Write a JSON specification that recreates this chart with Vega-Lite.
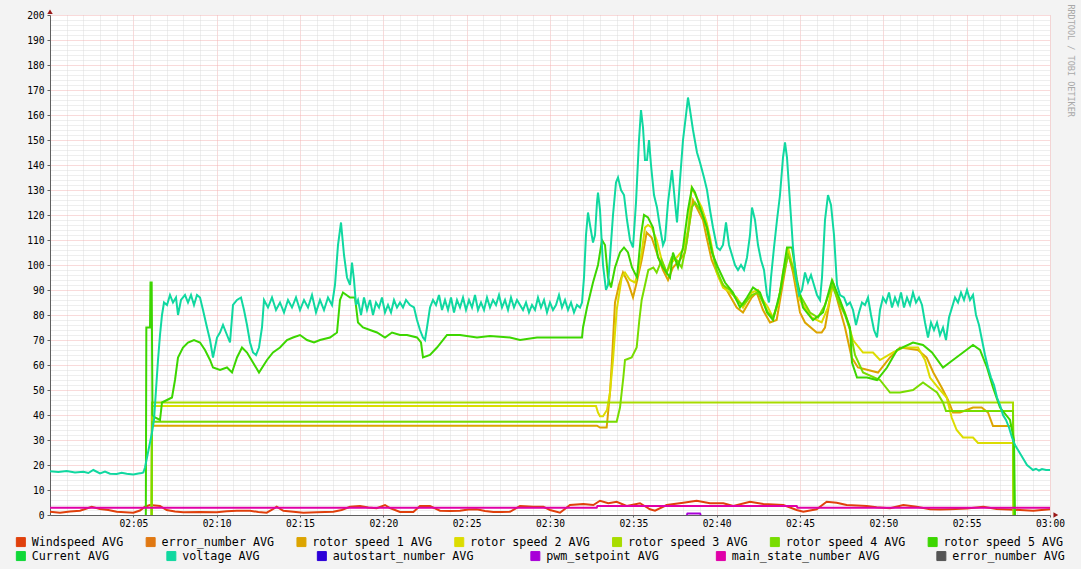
{
"$schema": "https://vega.github.io/schema/vega-lite/v6.json",
"width": 1000, "height": 500,
"autosize": {"type": "none"},
"padding": {"left": 50, "top": 15, "right": 31, "bottom": 54},
"background": "#f3f3f3",
"config": {"view": {"stroke": null, "fill": "#ffffff"}},
"title": {"text": "RRDTOOL / TOBI OETIKER", "orient": "right", "anchor": "start", "font": "DejaVu Sans Mono", "fontSize": 8.5, "fontWeight": "normal", "color": "#a8a8a8", "offset": 1, "dx": -5},
"datasets": {
"names": [{"k":"ws","s":"Windspeed AVG"},{"k":"r1","s":"rotor speed 1 AVG"},{"k":"r2","s":"rotor speed 2 AVG"},{"k":"r3","s":"rotor speed 3 AVG"},{"k":"r4","s":"rotor speed 4 AVG"},{"k":"r5","s":"rotor speed 5 AVG"},{"k":"vo","s":"voltage AVG"},{"k":"pw","s":"pwm_setpoint AVG"},{"k":"ms","s":"main_state_number AVG"}],
"ya": [{"m":0,"v":201.3}],
"xa": [{"m":60.35,"v":0}],
"g1": [
{"k":"ws","m":0,"v":1.3},{"k":"ws","m":0.6,"v":0.9},{"k":"ws","m":1.2,"v":1.4},{"k":"ws","m":1.8,"v":1.7},{"k":"ws","m":2.2,"v":2.6},{"k":"ws","m":2.5,"v":3.3},{"k":"ws","m":3,"v":2.4},{"k":"ws","m":3.5,"v":2},{"k":"ws","m":4,"v":1.3},{"k":"ws","m":4.5,"v":1.1},{"k":"ws","m":5,"v":0.9},{"k":"ws","m":5.4,"v":1.8},{"k":"ws","m":5.7,"v":3.3},{"k":"ws","m":6,"v":4},{"k":"ws","m":6.6,"v":3.6},{"k":"ws","m":7,"v":2},{"k":"ws","m":7.5,"v":1.4},{"k":"ws","m":8,"v":1.1},{"k":"ws","m":9,"v":1.2},{"k":"ws","m":10,"v":1.1},{"k":"ws","m":10.6,"v":1.5},{"k":"ws","m":11.2,"v":1.7},{"k":"ws","m":12,"v":1.7},{"k":"ws","m":12.5,"v":1.2},{"k":"ws","m":13,"v":0.9},{"k":"ws","m":13.3,"v":2},{"k":"ws","m":13.6,"v":3.3},{"k":"ws","m":14,"v":1.7},{"k":"ws","m":14.6,"v":1.3},{"k":"ws","m":15.2,"v":0.9},{"k":"ws","m":16,"v":1.1},{"k":"ws","m":17,"v":1.3},{"k":"ws","m":17.5,"v":2},{"k":"ws","m":18,"v":3.3},{"k":"ws","m":18.6,"v":3.6},{"k":"ws","m":19.1,"v":3},{"k":"ws","m":19.6,"v":2.7},{"k":"ws","m":20.1,"v":4},{"k":"ws","m":20.4,"v":2.8},{"k":"ws","m":21,"v":1.2},{"k":"ws","m":21.8,"v":1.2},{"k":"ws","m":22.2,"v":3.6},{"k":"ws","m":22.8,"v":3.6},{"k":"ws","m":23.4,"v":1.7},{"k":"ws","m":24,"v":1.6},{"k":"ws","m":24.6,"v":1.7},{"k":"ws","m":25.1,"v":2.2},{"k":"ws","m":25.6,"v":2.3},{"k":"ws","m":26.1,"v":1.6},{"k":"ws","m":26.6,"v":1.2},{"k":"ws","m":27.1,"v":1.2},{"k":"ws","m":27.6,"v":1.3},{"k":"ws","m":28.2,"v":3.6},{"k":"ws","m":29,"v":3.3},{"k":"ws","m":29.6,"v":3.3},{"k":"ws","m":30,"v":2},{"k":"ws","m":30.6,"v":0.9},{"k":"ws","m":31.2,"v":4},{"k":"ws","m":32,"v":4.4},{"k":"ws","m":32.6,"v":4},{"k":"ws","m":33,"v":5.7},{"k":"ws","m":33.5,"v":4.7},{"k":"ws","m":34,"v":5.3},{"k":"ws","m":34.6,"v":3.6},{"k":"ws","m":35.4,"v":4.7},{"k":"ws","m":36,"v":2.3},{"k":"ws","m":36.3,"v":1.7},{"k":"ws","m":37,"v":4},{"k":"ws","m":38,"v":4.9},{"k":"ws","m":38.8,"v":5.7},{"k":"ws","m":39.6,"v":4.7},{"k":"ws","m":40.4,"v":4.7},{"k":"ws","m":41,"v":3.6},{"k":"ws","m":42,"v":5.3},{"k":"ws","m":42.8,"v":4.4},{"k":"ws","m":43.4,"v":4.2},{"k":"ws","m":44,"v":4},{"k":"ws","m":44.8,"v":2},{"k":"ws","m":45.2,"v":1.3},{"k":"ws","m":46,"v":2.3},{"k":"ws","m":46.6,"v":5.3},{"k":"ws","m":47.2,"v":4.9},{"k":"ws","m":47.8,"v":4},{"k":"ws","m":48.4,"v":3.8},{"k":"ws","m":49,"v":3.6},{"k":"ws","m":49.6,"v":3.1},{"k":"ws","m":50.4,"v":2.7},{"k":"ws","m":51.2,"v":4},{"k":"ws","m":52,"v":3.3},{"k":"ws","m":52.8,"v":2.3},{"k":"ws","m":53.4,"v":2.2},{"k":"ws","m":54,"v":2.3},{"k":"ws","m":55,"v":2.6},{"k":"ws","m":56,"v":3.3},{"k":"ws","m":56.8,"v":2.4},{"k":"ws","m":57.5,"v":2.2},{"k":"ws","m":58.2,"v":2},{"k":"ws","m":59,"v":1.7},{"k":"ws","m":60,"v":2.3},
{"k":"r1","m":6.1,"v":0},{"k":"r1","m":6.12,"v":35.7},{"k":"r1","m":32.82,"v":35.7},{"k":"r1","m":33,"v":35},{"k":"r1","m":33.4,"v":35},{"k":"r1","m":33.6,"v":49},{"k":"r1","m":33.72,"v":62},{"k":"r1","m":33.9,"v":85},{"k":"r1","m":34.14,"v":92},{"k":"r1","m":34.38,"v":97},{"k":"r1","m":34.68,"v":93},{"k":"r1","m":34.98,"v":87},{"k":"r1","m":35.2,"v":93},{"k":"r1","m":35.5,"v":102},{"k":"r1","m":35.8,"v":113},{"k":"r1","m":36.1,"v":111},{"k":"r1","m":36.4,"v":105},{"k":"r1","m":36.78,"v":98},{"k":"r1","m":37.08,"v":94},{"k":"r1","m":37.38,"v":99},{"k":"r1","m":37.8,"v":102},{"k":"r1","m":38.1,"v":105},{"k":"r1","m":38.4,"v":118},{"k":"r1","m":38.58,"v":126},{"k":"r1","m":38.8,"v":123},{"k":"r1","m":39.18,"v":118},{"k":"r1","m":39.4,"v":111},{"k":"r1","m":39.7,"v":102},{"k":"r1","m":40.2,"v":94},{"k":"r1","m":40.6,"v":90},{"k":"r1","m":41.2,"v":83},{"k":"r1","m":41.58,"v":81},{"k":"r1","m":42.1,"v":87},{"k":"r1","m":42.4,"v":89},{"k":"r1","m":42.78,"v":82},{"k":"r1","m":43.2,"v":77},{"k":"r1","m":43.6,"v":78},{"k":"r1","m":43.98,"v":93},{"k":"r1","m":44.28,"v":105},{"k":"r1","m":44.58,"v":97},{"k":"r1","m":45,"v":81},{"k":"r1","m":45.3,"v":77},{"k":"r1","m":46,"v":73},{"k":"r1","m":46.3,"v":73},{"k":"r1","m":46.5,"v":75},{"k":"r1","m":46.98,"v":93},{"k":"r1","m":47.28,"v":85},{"k":"r1","m":47.7,"v":75},{"k":"r1","m":48.1,"v":63},{"k":"r1","m":48.48,"v":59},{"k":"r1","m":49.08,"v":58},{"k":"r1","m":49.68,"v":57},{"k":"r1","m":50.4,"v":63},{"k":"r1","m":51,"v":67},{"k":"r1","m":52.08,"v":66},{"k":"r1","m":52.6,"v":63},{"k":"r1","m":53,"v":57},{"k":"r1","m":53.5,"v":51},{"k":"r1","m":53.88,"v":46},{"k":"r1","m":54.18,"v":41},{"k":"r1","m":54.6,"v":41},{"k":"r1","m":55.38,"v":43},{"k":"r1","m":55.9,"v":43},{"k":"r1","m":56.28,"v":41},{"k":"r1","m":56.58,"v":35.6},{"k":"r1","m":57.78,"v":35.6},{"k":"r1","m":57.84,"v":0},
{"k":"r2","m":6.1,"v":0},{"k":"r2","m":6.12,"v":43.6},{"k":"r2","m":32.76,"v":43.6},{"k":"r2","m":32.88,"v":41},{"k":"r2","m":33,"v":39.5},{"k":"r2","m":33.18,"v":39.5},{"k":"r2","m":33.42,"v":42},{"k":"r2","m":33.6,"v":49},{"k":"r2","m":33.78,"v":62},{"k":"r2","m":34,"v":82},{"k":"r2","m":34.3,"v":95},{"k":"r2","m":34.5,"v":97},{"k":"r2","m":34.8,"v":94},{"k":"r2","m":35.1,"v":93},{"k":"r2","m":35.28,"v":97},{"k":"r2","m":35.5,"v":105},{"k":"r2","m":35.7,"v":115},{"k":"r2","m":35.88,"v":116},{"k":"r2","m":36.1,"v":115},{"k":"r2","m":36.4,"v":110},{"k":"r2","m":36.7,"v":102},{"k":"r2","m":37,"v":97},{"k":"r2","m":37.3,"v":101},{"k":"r2","m":37.6,"v":103},{"k":"r2","m":37.98,"v":106},{"k":"r2","m":38.28,"v":114},{"k":"r2","m":38.5,"v":131},{"k":"r2","m":38.8,"v":127},{"k":"r2","m":39.1,"v":123},{"k":"r2","m":39.4,"v":117},{"k":"r2","m":39.6,"v":111},{"k":"r2","m":40,"v":97},{"k":"r2","m":40.38,"v":91},{"k":"r2","m":40.8,"v":89},{"k":"r2","m":41.2,"v":87},{"k":"r2","m":41.58,"v":83},{"k":"r2","m":42.1,"v":89},{"k":"r2","m":42.48,"v":90},{"k":"r2","m":42.78,"v":86},{"k":"r2","m":43.08,"v":83},{"k":"r2","m":43.38,"v":79},{"k":"r2","m":43.68,"v":84},{"k":"r2","m":43.98,"v":97},{"k":"r2","m":44.28,"v":107},{"k":"r2","m":44.58,"v":99},{"k":"r2","m":45,"v":86},{"k":"r2","m":45.7,"v":79},{"k":"r2","m":46.3,"v":77},{"k":"r2","m":46.68,"v":83},{"k":"r2","m":46.98,"v":93},{"k":"r2","m":47.28,"v":87},{"k":"r2","m":47.7,"v":81},{"k":"r2","m":48.18,"v":70},{"k":"r2","m":48.78,"v":65},{"k":"r2","m":49.38,"v":65},{"k":"r2","m":49.8,"v":62},{"k":"r2","m":50.58,"v":65},{"k":"r2","m":51.18,"v":67},{"k":"r2","m":52.08,"v":67},{"k":"r2","m":52.5,"v":62},{"k":"r2","m":52.8,"v":55},{"k":"r2","m":53.28,"v":51},{"k":"r2","m":53.8,"v":47},{"k":"r2","m":54.1,"v":39},{"k":"r2","m":54.4,"v":34},{"k":"r2","m":54.78,"v":31},{"k":"r2","m":55.38,"v":31},{"k":"r2","m":55.68,"v":28.8},{"k":"r2","m":57.78,"v":28.8},{"k":"r2","m":57.84,"v":0},
{"k":"r3","m":6.1,"v":0},{"k":"r3","m":6.12,"v":45},{"k":"r3","m":57.78,"v":45},{"k":"r3","m":57.8,"v":0},
{"k":"r4","m":6.1,"v":0},{"k":"r4","m":6.12,"v":37.3},{"k":"r4","m":34,"v":37.3},{"k":"r4","m":34.2,"v":43},{"k":"r4","m":34.4,"v":55},{"k":"r4","m":34.5,"v":62},{"k":"r4","m":34.9,"v":63},{"k":"r4","m":35.2,"v":67},{"k":"r4","m":35.36,"v":78},{"k":"r4","m":35.5,"v":86},{"k":"r4","m":35.9,"v":98},{"k":"r4","m":36.2,"v":99},{"k":"r4","m":36.4,"v":97},{"k":"r4","m":36.7,"v":102},{"k":"r4","m":37,"v":97},{"k":"r4","m":37.3,"v":103},{"k":"r4","m":37.6,"v":102},{"k":"r4","m":37.9,"v":99},{"k":"r4","m":38.2,"v":109},{"k":"r4","m":38.5,"v":123},{"k":"r4","m":38.7,"v":125},{"k":"r4","m":39.1,"v":121},{"k":"r4","m":39.4,"v":115},{"k":"r4","m":39.6,"v":109},{"k":"r4","m":40,"v":98},{"k":"r4","m":40.38,"v":92},{"k":"r4","m":40.8,"v":90},{"k":"r4","m":41.2,"v":86},{"k":"r4","m":41.58,"v":84},{"k":"r4","m":42.1,"v":88},{"k":"r4","m":42.48,"v":89},{"k":"r4","m":42.78,"v":85},{"k":"r4","m":43.08,"v":81},{"k":"r4","m":43.38,"v":79},{"k":"r4","m":43.68,"v":85},{"k":"r4","m":43.98,"v":95},{"k":"r4","m":44.28,"v":104},{"k":"r4","m":44.58,"v":99},{"k":"r4","m":45,"v":88},{"k":"r4","m":45.6,"v":81},{"k":"r4","m":46.08,"v":79},{"k":"r4","m":46.5,"v":84},{"k":"r4","m":46.92,"v":92},{"k":"r4","m":47.28,"v":86},{"k":"r4","m":47.7,"v":80},{"k":"r4","m":48,"v":74},{"k":"r4","m":48.3,"v":64},{"k":"r4","m":48.78,"v":57},{"k":"r4","m":49.8,"v":54},{"k":"r4","m":50.4,"v":49},{"k":"r4","m":51,"v":49},{"k":"r4","m":51.78,"v":50},{"k":"r4","m":52.38,"v":53},{"k":"r4","m":52.8,"v":51},{"k":"r4","m":53.22,"v":49},{"k":"r4","m":53.58,"v":45},{"k":"r4","m":53.76,"v":41.6},{"k":"r4","m":57.78,"v":41.6},{"k":"r4","m":57.84,"v":0},
{"k":"r5","m":5.75,"v":0},{"k":"r5","m":5.78,"v":75},{"k":"r5","m":6,"v":75},{"k":"r5","m":6.03,"v":93},{"k":"r5","m":6.1,"v":93},{"k":"r5","m":6.15,"v":40},{"k":"r5","m":6.3,"v":39},{"k":"r5","m":6.6,"v":38},{"k":"r5","m":6.72,"v":45},{"k":"r5","m":7.02,"v":46},{"k":"r5","m":7.32,"v":47},{"k":"r5","m":7.5,"v":54},{"k":"r5","m":7.68,"v":63},{"k":"r5","m":7.98,"v":67},{"k":"r5","m":8.28,"v":69},{"k":"r5","m":8.64,"v":70},{"k":"r5","m":9,"v":69},{"k":"r5","m":9.3,"v":66},{"k":"r5","m":9.6,"v":62},{"k":"r5","m":9.78,"v":59},{"k":"r5","m":10.2,"v":58},{"k":"r5","m":10.62,"v":59},{"k":"r5","m":10.92,"v":57},{"k":"r5","m":11.22,"v":63},{"k":"r5","m":11.52,"v":67},{"k":"r5","m":11.82,"v":65},{"k":"r5","m":12.18,"v":61},{"k":"r5","m":12.54,"v":57},{"k":"r5","m":13.02,"v":62},{"k":"r5","m":13.38,"v":65},{"k":"r5","m":13.8,"v":67},{"k":"r5","m":14.22,"v":70},{"k":"r5","m":14.58,"v":71},{"k":"r5","m":15,"v":72},{"k":"r5","m":15.42,"v":70},{"k":"r5","m":15.84,"v":69},{"k":"r5","m":16.2,"v":70},{"k":"r5","m":16.8,"v":71},{"k":"r5","m":17.22,"v":73},{"k":"r5","m":17.4,"v":86},{"k":"r5","m":17.58,"v":89},{"k":"r5","m":18,"v":87},{"k":"r5","m":18.3,"v":87},{"k":"r5","m":18.48,"v":77},{"k":"r5","m":18.78,"v":75},{"k":"r5","m":19.2,"v":74},{"k":"r5","m":19.62,"v":73},{"k":"r5","m":20.1,"v":71},{"k":"r5","m":20.52,"v":73},{"k":"r5","m":21,"v":72},{"k":"r5","m":21.42,"v":72},{"k":"r5","m":22.02,"v":71},{"k":"r5","m":22.26,"v":69},{"k":"r5","m":22.38,"v":63},{"k":"r5","m":22.8,"v":64},{"k":"r5","m":23.22,"v":67},{"k":"r5","m":23.82,"v":72},{"k":"r5","m":24.6,"v":72},{"k":"r5","m":25.62,"v":71},{"k":"r5","m":26.4,"v":71.6},{"k":"r5","m":27.6,"v":71},{"k":"r5","m":28.2,"v":70},{"k":"r5","m":29.22,"v":71},{"k":"r5","m":30.78,"v":71},{"k":"r5","m":31.92,"v":71},{"k":"r5","m":31.98,"v":75},{"k":"r5","m":32.22,"v":83},{"k":"r5","m":32.58,"v":93},{"k":"r5","m":32.88,"v":100},{"k":"r5","m":33.12,"v":110},{"k":"r5","m":33.3,"v":108},{"k":"r5","m":33.48,"v":95},{"k":"r5","m":33.66,"v":91},{"k":"r5","m":33.9,"v":99},{"k":"r5","m":34.2,"v":105},{"k":"r5","m":34.44,"v":107},{"k":"r5","m":34.68,"v":105},{"k":"r5","m":34.92,"v":99},{"k":"r5","m":35.22,"v":95},{"k":"r5","m":35.46,"v":112},{"k":"r5","m":35.64,"v":120},{"k":"r5","m":35.88,"v":119},{"k":"r5","m":36.18,"v":115},{"k":"r5","m":36.48,"v":103},{"k":"r5","m":36.78,"v":99},{"k":"r5","m":37.2,"v":95},{"k":"r5","m":37.38,"v":105},{"k":"r5","m":37.68,"v":99},{"k":"r5","m":37.98,"v":107},{"k":"r5","m":38.28,"v":122},{"k":"r5","m":38.52,"v":131},{"k":"r5","m":38.7,"v":129},{"k":"r5","m":39,"v":123},{"k":"r5","m":39.42,"v":115},{"k":"r5","m":39.72,"v":105},{"k":"r5","m":40.08,"v":99},{"k":"r5","m":40.5,"v":93},{"k":"r5","m":40.98,"v":89},{"k":"r5","m":41.4,"v":83},{"k":"r5","m":41.82,"v":87},{"k":"r5","m":42.18,"v":91},{"k":"r5","m":42.6,"v":89},{"k":"r5","m":43.02,"v":81},{"k":"r5","m":43.38,"v":78},{"k":"r5","m":43.8,"v":89},{"k":"r5","m":44.22,"v":107},{"k":"r5","m":44.52,"v":107},{"k":"r5","m":44.82,"v":94},{"k":"r5","m":45.18,"v":83},{"k":"r5","m":45.78,"v":78},{"k":"r5","m":46.38,"v":81},{"k":"r5","m":46.92,"v":94},{"k":"r5","m":47.4,"v":86},{"k":"r5","m":48,"v":75},{"k":"r5","m":48.12,"v":61},{"k":"r5","m":48.42,"v":55},{"k":"r5","m":49.02,"v":55},{"k":"r5","m":49.62,"v":54},{"k":"r5","m":50.22,"v":59},{"k":"r5","m":50.82,"v":66},{"k":"r5","m":51.78,"v":69},{"k":"r5","m":52.38,"v":68},{"k":"r5","m":52.92,"v":65},{"k":"r5","m":53.58,"v":59},{"k":"r5","m":54.18,"v":62},{"k":"r5","m":54.78,"v":65},{"k":"r5","m":55.38,"v":68},{"k":"r5","m":55.8,"v":66},{"k":"r5","m":56.22,"v":59},{"k":"r5","m":56.58,"v":51},{"k":"r5","m":57,"v":43},{"k":"r5","m":57.6,"v":38},{"k":"r5","m":57.84,"v":30},{"k":"r5","m":57.9,"v":0}
],
"g2": [
{"k":"vo","m":0,"v":17.5},{"k":"vo","m":0.5,"v":17.2},{"k":"vo","m":1,"v":17.6},{"k":"vo","m":1.5,"v":17},{"k":"vo","m":2,"v":17.3},{"k":"vo","m":2.3,"v":16.8},{"k":"vo","m":2.6,"v":18},{"k":"vo","m":3,"v":16.6},{"k":"vo","m":3.3,"v":17.4},{"k":"vo","m":3.6,"v":16.5},{"k":"vo","m":4,"v":16.4},{"k":"vo","m":4.3,"v":16.9},{"k":"vo","m":4.6,"v":16.5},{"k":"vo","m":5,"v":16.2},{"k":"vo","m":5.3,"v":16.6},{"k":"vo","m":5.5,"v":16.8},{"k":"vo","m":5.6,"v":17},{"k":"vo","m":5.7,"v":19},{"k":"vo","m":5.88,"v":25},{"k":"vo","m":6,"v":29},{"k":"vo","m":6.12,"v":33},{"k":"vo","m":6.24,"v":38},{"k":"vo","m":6.36,"v":50},{"k":"vo","m":6.48,"v":62},{"k":"vo","m":6.6,"v":72},{"k":"vo","m":6.72,"v":80},{"k":"vo","m":6.84,"v":85},{"k":"vo","m":7.02,"v":84},{"k":"vo","m":7.2,"v":88},{"k":"vo","m":7.38,"v":85},{"k":"vo","m":7.56,"v":87},{"k":"vo","m":7.68,"v":80},{"k":"vo","m":7.86,"v":86},{"k":"vo","m":8.1,"v":88},{"k":"vo","m":8.28,"v":85},{"k":"vo","m":8.46,"v":88},{"k":"vo","m":8.64,"v":84},{"k":"vo","m":8.82,"v":88},{"k":"vo","m":9,"v":87},{"k":"vo","m":9.18,"v":82},{"k":"vo","m":9.42,"v":75},{"k":"vo","m":9.6,"v":70},{"k":"vo","m":9.78,"v":63},{"k":"vo","m":10.02,"v":71},{"k":"vo","m":10.2,"v":73},{"k":"vo","m":10.38,"v":76},{"k":"vo","m":10.62,"v":72},{"k":"vo","m":10.8,"v":69},{"k":"vo","m":10.98,"v":84},{"k":"vo","m":11.22,"v":86},{"k":"vo","m":11.46,"v":87},{"k":"vo","m":11.64,"v":82},{"k":"vo","m":11.82,"v":76},{"k":"vo","m":12,"v":69},{"k":"vo","m":12.18,"v":65},{"k":"vo","m":12.36,"v":64},{"k":"vo","m":12.54,"v":67},{"k":"vo","m":12.72,"v":75},{"k":"vo","m":12.84,"v":86},{"k":"vo","m":13.08,"v":83},{"k":"vo","m":13.32,"v":87},{"k":"vo","m":13.56,"v":82},{"k":"vo","m":13.8,"v":85},{"k":"vo","m":14.04,"v":81},{"k":"vo","m":14.28,"v":86},{"k":"vo","m":14.52,"v":83},{"k":"vo","m":14.76,"v":87},{"k":"vo","m":15,"v":82},{"k":"vo","m":15.24,"v":86},{"k":"vo","m":15.48,"v":83},{"k":"vo","m":15.72,"v":88},{"k":"vo","m":15.96,"v":81},{"k":"vo","m":16.2,"v":86},{"k":"vo","m":16.44,"v":82},{"k":"vo","m":16.68,"v":87},{"k":"vo","m":16.92,"v":84},{"k":"vo","m":17.1,"v":92},{"k":"vo","m":17.28,"v":108},{"k":"vo","m":17.46,"v":117},{"k":"vo","m":17.64,"v":104},{"k":"vo","m":17.82,"v":95},{"k":"vo","m":18,"v":92},{"k":"vo","m":18.12,"v":101},{"k":"vo","m":18.24,"v":94},{"k":"vo","m":18.36,"v":84},{"k":"vo","m":18.48,"v":86},{"k":"vo","m":18.66,"v":80},{"k":"vo","m":18.84,"v":87},{"k":"vo","m":19.02,"v":82},{"k":"vo","m":19.2,"v":86},{"k":"vo","m":19.38,"v":80},{"k":"vo","m":19.56,"v":85},{"k":"vo","m":19.74,"v":83},{"k":"vo","m":19.92,"v":87},{"k":"vo","m":20.1,"v":81},{"k":"vo","m":20.28,"v":84},{"k":"vo","m":20.46,"v":81},{"k":"vo","m":20.64,"v":86},{"k":"vo","m":20.82,"v":83},{"k":"vo","m":21,"v":85},{"k":"vo","m":21.18,"v":83},{"k":"vo","m":21.36,"v":86},{"k":"vo","m":21.6,"v":84},{"k":"vo","m":21.84,"v":83},{"k":"vo","m":22.02,"v":78},{"k":"vo","m":22.2,"v":74},{"k":"vo","m":22.38,"v":71},{"k":"vo","m":22.5,"v":70},{"k":"vo","m":22.62,"v":75},{"k":"vo","m":22.8,"v":83},{"k":"vo","m":22.98,"v":86},{"k":"vo","m":23.16,"v":84},{"k":"vo","m":23.34,"v":88},{"k":"vo","m":23.52,"v":82},{"k":"vo","m":23.7,"v":86},{"k":"vo","m":23.88,"v":82},{"k":"vo","m":24.06,"v":87},{"k":"vo","m":24.24,"v":81},{"k":"vo","m":24.42,"v":86},{"k":"vo","m":24.6,"v":83},{"k":"vo","m":24.78,"v":87},{"k":"vo","m":24.96,"v":82},{"k":"vo","m":25.14,"v":86},{"k":"vo","m":25.32,"v":83},{"k":"vo","m":25.5,"v":88},{"k":"vo","m":25.68,"v":82},{"k":"vo","m":25.86,"v":85},{"k":"vo","m":26.04,"v":82},{"k":"vo","m":26.22,"v":87},{"k":"vo","m":26.4,"v":83},{"k":"vo","m":26.58,"v":86},{"k":"vo","m":26.76,"v":84},{"k":"vo","m":26.94,"v":88},{"k":"vo","m":27.12,"v":83},{"k":"vo","m":27.3,"v":86},{"k":"vo","m":27.48,"v":82},{"k":"vo","m":27.66,"v":87},{"k":"vo","m":27.84,"v":83},{"k":"vo","m":28.02,"v":86},{"k":"vo","m":28.2,"v":84},{"k":"vo","m":28.38,"v":82},{"k":"vo","m":28.56,"v":85},{"k":"vo","m":28.74,"v":81},{"k":"vo","m":28.92,"v":84},{"k":"vo","m":29.1,"v":82},{"k":"vo","m":29.28,"v":87},{"k":"vo","m":29.46,"v":83},{"k":"vo","m":29.64,"v":86},{"k":"vo","m":29.82,"v":81},{"k":"vo","m":30,"v":85},{"k":"vo","m":30.18,"v":82},{"k":"vo","m":30.36,"v":84},{"k":"vo","m":30.54,"v":88},{"k":"vo","m":30.72,"v":83},{"k":"vo","m":30.9,"v":86},{"k":"vo","m":31.08,"v":82},{"k":"vo","m":31.26,"v":85},{"k":"vo","m":31.44,"v":81},{"k":"vo","m":31.62,"v":84},{"k":"vo","m":31.8,"v":83},{"k":"vo","m":31.92,"v":85},{"k":"vo","m":32.04,"v":95},{"k":"vo","m":32.16,"v":112},{"k":"vo","m":32.28,"v":121},{"k":"vo","m":32.4,"v":116},{"k":"vo","m":32.58,"v":109},{"k":"vo","m":32.7,"v":112},{"k":"vo","m":32.82,"v":125},{"k":"vo","m":32.88,"v":129},{"k":"vo","m":33,"v":122},{"k":"vo","m":33.18,"v":100},{"k":"vo","m":33.36,"v":90},{"k":"vo","m":33.48,"v":92},{"k":"vo","m":33.6,"v":103},{"k":"vo","m":33.78,"v":120},{"k":"vo","m":33.96,"v":133},{"k":"vo","m":34.08,"v":135},{"k":"vo","m":34.26,"v":130},{"k":"vo","m":34.44,"v":128},{"k":"vo","m":34.62,"v":118},{"k":"vo","m":34.8,"v":110},{"k":"vo","m":34.98,"v":107},{"k":"vo","m":35.16,"v":125},{"k":"vo","m":35.34,"v":150},{"k":"vo","m":35.46,"v":162},{"k":"vo","m":35.58,"v":155},{"k":"vo","m":35.7,"v":142},{"k":"vo","m":35.82,"v":142},{"k":"vo","m":35.94,"v":150},{"k":"vo","m":36.06,"v":140},{"k":"vo","m":36.24,"v":128},{"k":"vo","m":36.42,"v":123},{"k":"vo","m":36.6,"v":115},{"k":"vo","m":36.78,"v":108},{"k":"vo","m":36.9,"v":110},{"k":"vo","m":37.08,"v":125},{"k":"vo","m":37.32,"v":138},{"k":"vo","m":37.5,"v":125},{"k":"vo","m":37.62,"v":117},{"k":"vo","m":37.8,"v":134},{"k":"vo","m":37.98,"v":150},{"k":"vo","m":38.16,"v":160},{"k":"vo","m":38.28,"v":167},{"k":"vo","m":38.4,"v":162},{"k":"vo","m":38.58,"v":154},{"k":"vo","m":38.82,"v":145},{"k":"vo","m":39,"v":141},{"k":"vo","m":39.24,"v":135},{"k":"vo","m":39.42,"v":130},{"k":"vo","m":39.6,"v":122},{"k":"vo","m":39.78,"v":115},{"k":"vo","m":40.02,"v":107},{"k":"vo","m":40.2,"v":106},{"k":"vo","m":40.38,"v":108},{"k":"vo","m":40.56,"v":117},{"k":"vo","m":40.74,"v":108},{"k":"vo","m":40.92,"v":104},{"k":"vo","m":41.1,"v":100},{"k":"vo","m":41.28,"v":98},{"k":"vo","m":41.46,"v":100},{"k":"vo","m":41.64,"v":98},{"k":"vo","m":41.82,"v":103},{"k":"vo","m":42,"v":112},{"k":"vo","m":42.12,"v":123},{"k":"vo","m":42.3,"v":118},{"k":"vo","m":42.48,"v":108},{"k":"vo","m":42.66,"v":102},{"k":"vo","m":42.84,"v":98},{"k":"vo","m":43.02,"v":88},{"k":"vo","m":43.14,"v":85},{"k":"vo","m":43.26,"v":95},{"k":"vo","m":43.44,"v":107},{"k":"vo","m":43.62,"v":118},{"k":"vo","m":43.8,"v":128},{"k":"vo","m":43.98,"v":143},{"k":"vo","m":44.1,"v":149},{"k":"vo","m":44.22,"v":143},{"k":"vo","m":44.4,"v":125},{"k":"vo","m":44.58,"v":107},{"k":"vo","m":44.76,"v":95},{"k":"vo","m":44.94,"v":88},{"k":"vo","m":45.12,"v":90},{"k":"vo","m":45.3,"v":97},{"k":"vo","m":45.48,"v":93},{"k":"vo","m":45.66,"v":96},{"k":"vo","m":45.84,"v":92},{"k":"vo","m":46.02,"v":88},{"k":"vo","m":46.2,"v":86},{"k":"vo","m":46.32,"v":95},{"k":"vo","m":46.5,"v":118},{"k":"vo","m":46.68,"v":128},{"k":"vo","m":46.86,"v":124},{"k":"vo","m":47.04,"v":112},{"k":"vo","m":47.22,"v":92},{"k":"vo","m":47.4,"v":88},{"k":"vo","m":47.64,"v":87},{"k":"vo","m":47.82,"v":84},{"k":"vo","m":48,"v":85},{"k":"vo","m":48.18,"v":82},{"k":"vo","m":48.36,"v":76},{"k":"vo","m":48.54,"v":81},{"k":"vo","m":48.72,"v":85},{"k":"vo","m":48.9,"v":84},{"k":"vo","m":49.08,"v":87},{"k":"vo","m":49.26,"v":80},{"k":"vo","m":49.44,"v":74},{"k":"vo","m":49.62,"v":71},{"k":"vo","m":49.8,"v":82},{"k":"vo","m":49.98,"v":87},{"k":"vo","m":50.16,"v":85},{"k":"vo","m":50.34,"v":89},{"k":"vo","m":50.52,"v":83},{"k":"vo","m":50.7,"v":87},{"k":"vo","m":50.88,"v":84},{"k":"vo","m":51.06,"v":89},{"k":"vo","m":51.24,"v":83},{"k":"vo","m":51.42,"v":87},{"k":"vo","m":51.6,"v":84},{"k":"vo","m":51.78,"v":89},{"k":"vo","m":51.96,"v":85},{"k":"vo","m":52.14,"v":87},{"k":"vo","m":52.32,"v":84},{"k":"vo","m":52.5,"v":77},{"k":"vo","m":52.68,"v":71},{"k":"vo","m":52.86,"v":77},{"k":"vo","m":53.04,"v":74},{"k":"vo","m":53.22,"v":77},{"k":"vo","m":53.4,"v":72},{"k":"vo","m":53.58,"v":75},{"k":"vo","m":53.76,"v":70},{"k":"vo","m":53.94,"v":79},{"k":"vo","m":54.12,"v":83},{"k":"vo","m":54.3,"v":87},{"k":"vo","m":54.48,"v":85},{"k":"vo","m":54.66,"v":89},{"k":"vo","m":54.84,"v":86},{"k":"vo","m":55.02,"v":90},{"k":"vo","m":55.2,"v":86},{"k":"vo","m":55.38,"v":88},{"k":"vo","m":55.56,"v":80},{"k":"vo","m":55.74,"v":76},{"k":"vo","m":55.92,"v":70},{"k":"vo","m":56.1,"v":64},{"k":"vo","m":56.28,"v":59},{"k":"vo","m":56.46,"v":55},{"k":"vo","m":56.64,"v":52},{"k":"vo","m":56.82,"v":47},{"k":"vo","m":57,"v":44},{"k":"vo","m":57.18,"v":40},{"k":"vo","m":57.36,"v":38},{"k":"vo","m":57.54,"v":35},{"k":"vo","m":57.72,"v":31},{"k":"vo","m":57.9,"v":28},{"k":"vo","m":58.08,"v":26},{"k":"vo","m":58.26,"v":24},{"k":"vo","m":58.44,"v":22},{"k":"vo","m":58.62,"v":20},{"k":"vo","m":58.8,"v":19},{"k":"vo","m":58.98,"v":18},{"k":"vo","m":59.16,"v":18.5},{"k":"vo","m":59.34,"v":17.8},{"k":"vo","m":59.52,"v":18.4},{"k":"vo","m":59.76,"v":18},{"k":"vo","m":60,"v":18},
{"k":"pw","m":38.2,"v":0},{"k":"pw","m":38.25,"v":0.6},{"k":"pw","m":39,"v":0.6},{"k":"pw","m":39.05,"v":0},
{"k":"ms","m":0,"v":2.9},{"k":"ms","m":32.8,"v":2.9},{"k":"ms","m":32.85,"v":3.6},{"k":"ms","m":44.8,"v":3.6},{"k":"ms","m":44.85,"v":2.9},{"k":"ms","m":60,"v":2.9}
]
},
"resolve": {"scale": {"color": "independent"}, "axis": {"x": "independent", "y": "independent"}},
"layer": [
{
"layer": [
{
"data": {"values": []},
"mark": {"type": "square", "filled": true, "stroke": "#000000", "strokeWidth": 1, "opacity": 1},
"encoding": {
"color": {"field": "s", "type": "nominal",
 "scale": {"domain": ["Windspeed AVG","error_number AVG","rotor speed 1 AVG","rotor speed 2 AVG","rotor speed 3 AVG","rotor speed 4 AVG","rotor speed 5 AVG"], "range": ["#e0400c","#e07812","#dca400","#dcdc00","#a8dc00","#78dc00","#3cd600"]},
 "legend": {"orient": "none", "legendX": -35, "legendY": 521, "direction": "horizontal", "columns": 7, "title": null, "symbolType": "square", "symbolSize": 81, "symbolStrokeWidth": 1, "symbolStrokeColor": "#000000", "symbolOpacity": 1, "labelFont": "DejaVu Sans Mono", "labelFontSize": 11.7, "labelColor": "#000000", "labelOffset": 5, "columnPadding": 19.8, "padding": 0, "labelLimit": 0}}
}
},
{
"data": {"name": "g1"},
"transform": [{"lookup": "k", "from": {"data": {"name": "names"}, "key": "k", "fields": ["s"]}}],
"mark": {"type": "line", "strokeWidth": 2, "clip": false},
"encoding": {
"x": {"field": "m", "type": "quantitative", "scale": {"domain": [0, 60], "nice": false, "zero": false},
 "axis": {"orient": "bottom", "values": [1,2,3,4,6,7,8,9,11,12,13,14,16,17,18,19,21,22,23,24,26,27,28,29,31,32,33,34,36,37,38,39,41,42,43,44,46,47,48,49,51,52,53,54,56,57,58,59], "grid": true, "gridColor": "#dcdcdc", "gridDash": [1,1], "gridOpacity": 1, "labels": false, "ticks": false, "domain": false, "title": null}},
"y": {"field": "v", "type": "quantitative", "scale": {"domain": [0, 200], "nice": false, "zero": false},
 "axis": {"orient": "left", "values": [2,4,6,8,12,14,16,18,22,24,26,28,32,34,36,38,42,44,46,48,52,54,56,58,62,64,66,68,72,74,76,78,82,84,86,88,92,94,96,98,102,104,106,108,112,114,116,118,122,124,126,128,132,134,136,138,142,144,146,148,152,154,156,158,162,164,166,168,172,174,176,178,182,184,186,188,192,194,196,198], "grid": true, "gridColor": "#dcdcdc", "gridDash": [1,1], "gridOpacity": 1, "labels": false, "ticks": false, "domain": false, "title": null}},
"color": {"field": "s", "type": "nominal",
 "scale": {"domain": ["Windspeed AVG","error_number AVG","rotor speed 1 AVG","rotor speed 2 AVG","rotor speed 3 AVG","rotor speed 4 AVG","rotor speed 5 AVG"], "range": ["#e0400c","#e07812","#dca400","#dcdc00","#a8dc00","#78dc00","#3cd600"]}}
}
}
]
},
{
"layer": [
{
"data": {"values": []},
"mark": {"type": "square", "filled": true, "stroke": "#000000", "strokeWidth": 1, "opacity": 1},
"encoding": {
"color": {"field": "s", "type": "nominal",
 "scale": {"domain": ["Current AVG","voltage AVG","autostart_number AVG","pwm_setpoint AVG","main_state_number AVG","error_number AVG"], "range": ["#10d838","#10d8a0","#2c00d8","#a800d8","#e000a8","#555555"]},
 "legend": {"orient": "none", "legendX": -35, "legendY": 535, "direction": "horizontal", "columns": 6, "title": null, "symbolType": "square", "symbolSize": 81, "symbolStrokeWidth": 1, "symbolStrokeColor": "#000000", "symbolOpacity": 1, "labelFont": "DejaVu Sans Mono", "labelFontSize": 11.7, "labelColor": "#000000", "labelOffset": 5, "columnPadding": 54.5, "padding": 0, "labelLimit": 0}}
}
},
{
"data": {"name": "g2"},
"transform": [{"lookup": "k", "from": {"data": {"name": "names"}, "key": "k", "fields": ["s"]}}],
"mark": {"type": "line", "strokeWidth": 2, "clip": false},
"encoding": {
"x": {"field": "m", "type": "quantitative", "scale": {"domain": [0, 60], "nice": false, "zero": false},
 "axis": {"orient": "bottom", "values": [5,10,15,20,25,30,35,40,45,50,55,60], "labelExpr": "datum.value == 60 ? '03:00' : '02:' + (datum.value < 10 ? '0' : '') + datum.value", "grid": true, "gridColor": "#f2b4b4", "gridDash": [1,1], "gridOpacity": 1, "domain": true, "domainColor": "#606060", "ticks": true, "tickSize": 2, "tickColor": "#606060", "labelFont": "DejaVu Sans Mono", "labelFontSize": 9.6, "labelColor": "#000000", "labelPadding": 1, "labelFlush": false, "labelOverlap": false, "title": null}},
"y": {"field": "v", "type": "quantitative", "scale": {"domain": [0, 200], "nice": false, "zero": false},
 "axis": {"orient": "left", "values": [0,10,20,30,40,50,60,70,80,90,100,110,120,130,140,150,160,170,180,190,200], "grid": true, "gridColor": "#f2b4b4", "gridDash": [1,1], "gridOpacity": 1, "domain": true, "domainColor": "#606060", "ticks": true, "tickSize": 3, "tickColor": "#606060", "labelFont": "DejaVu Sans Mono", "labelFontSize": 9.6, "labelColor": "#000000", "labelPadding": 3, "labelFlush": false, "labelOverlap": false, "title": null}},
"color": {"field": "s", "type": "nominal",
 "scale": {"domain": ["Current AVG","voltage AVG","autostart_number AVG","pwm_setpoint AVG","main_state_number AVG","error_number AVG"], "range": ["#10d838","#10d8a0","#2c00d8","#a800d8","#e000a8","#555555"]}}
}
}
]
},
{
"data": {"name": "ya"},
"mark": {"type": "point", "shape": "triangle-up", "filled": true, "size": 30, "color": "#9a1818", "opacity": 1, "clip": false},
"encoding": {
"x": {"field": "m", "type": "quantitative", "scale": {"domain": [0, 60], "nice": false, "zero": false}, "axis": null},
"y": {"field": "v", "type": "quantitative", "scale": {"domain": [0, 200], "nice": false, "zero": false}, "axis": null}
}
},
{
"data": {"name": "xa"},
"mark": {"type": "point", "shape": "triangle-right", "filled": true, "size": 30, "color": "#9a1818", "opacity": 1, "clip": false},
"encoding": {
"x": {"field": "m", "type": "quantitative", "scale": {"domain": [0, 60], "nice": false, "zero": false}, "axis": null},
"y": {"field": "v", "type": "quantitative", "scale": {"domain": [0, 200], "nice": false, "zero": false}, "axis": null}
}
}
]
}
